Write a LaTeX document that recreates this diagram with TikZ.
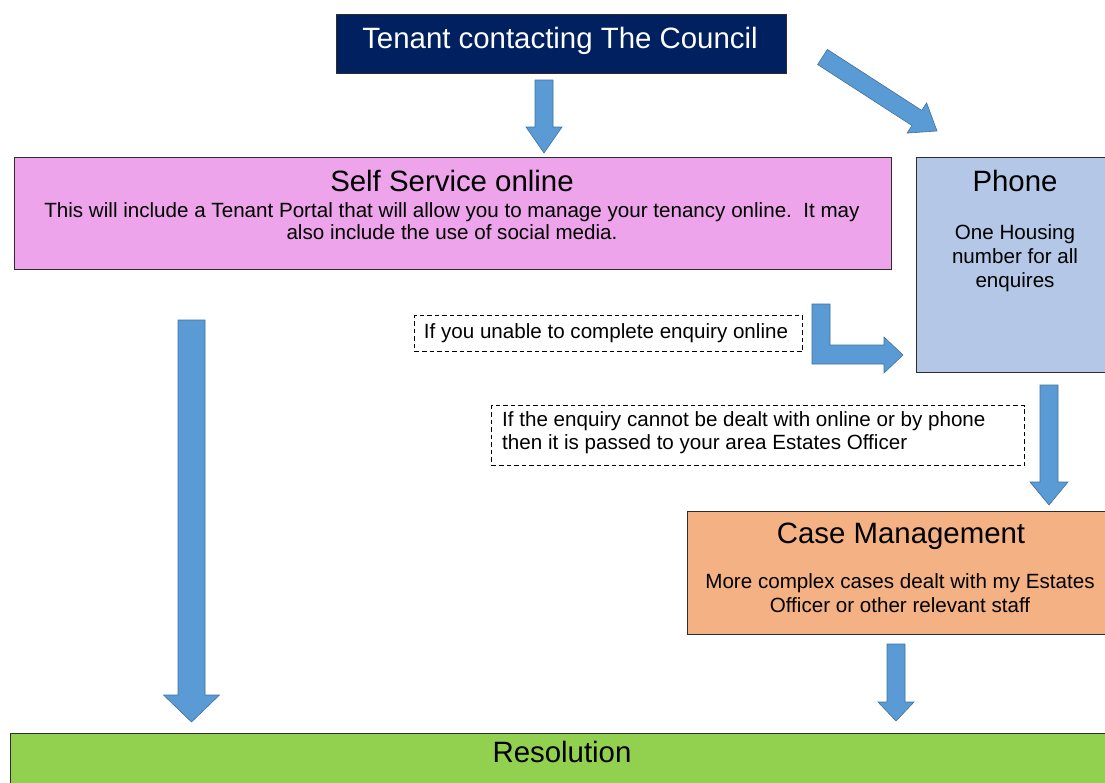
\documentclass[tikz,border=0pt]{standalone}
\usepackage{fontspec}
\setmainfont{Liberation Sans}
\usetikzlibrary{calc}
\definecolor{navy}{RGB}{0,32,96}
\definecolor{pinkbox}{RGB}{237,164,234}
\definecolor{phoneblue}{RGB}{180,199,231}
\definecolor{caseorange}{RGB}{244,177,131}
\definecolor{resgreen}{RGB}{146,208,80}
\definecolor{arrowblue}{RGB}{91,155,213}
\definecolor{arrowedge}{RGB}{65,113,156}
\definecolor{boxedge}{RGB}{45,45,45}
% #1 tail, #2 tip, #3 shaft half width, #4 head half width, #5 head length
\newcommand\blockarrow[5]{%
  \coordinate (hb) at ($(#2)!#5!(#1)$);
  \filldraw[arrowstyle] ($(#1)!#3!90:(#2)$) -- ($(hb)!#3!90:(#2)$) -- ($(hb)!#4!90:(#2)$) -- (#2)
    -- ($(hb)!#4!-90:(#2)$) -- ($(hb)!#3!-90:(#2)$) -- ($(#1)!#3!-90:(#2)$) -- cycle;}
\begin{document}
\begin{tikzpicture}[x=1pt,y=-1pt,
  box/.style={draw=boxedge,line width=1.2pt,inner sep=0pt,anchor=north west},
  titletext/.style={font=\fontsize{29.4}{34}\selectfont,anchor=base,inner sep=0pt},
  bodytext/.style={font=\fontsize{20.6}{24}\selectfont,anchor=base,inner sep=0pt},
  notebox/.style={draw=black,dashed,dash pattern=on 4.5pt off 3pt,line width=1pt,inner sep=0pt,anchor=north west},
  arrowstyle/.style={fill=arrowblue,draw=arrowedge,line width=0.6pt}]
\useasboundingbox (0,0) rectangle (1105,782);
\fill[white] (0,0) rectangle (1105,782);
% boxes
\node[box,fill=navy,minimum width=450pt,minimum height=59pt] (top) at (336,14) {};
\node[box,fill=pinkbox,minimum width=877pt,minimum height=112pt] (self) at (14,157) {};
\node[box,fill=phoneblue,minimum width=200pt,minimum height=215pt] (phone) at (916,157) {};
\node[box,fill=caseorange,minimum width=430pt,minimum height=123pt] (case) at (687,511) {};
\node[box,fill=resgreen,minimum width=1105pt,minimum height=60pt] (res) at (10,733) {};
\node[notebox,minimum width=388pt,minimum height=36pt] (note1) at (414,315) {};
\node[notebox,minimum width=533pt,minimum height=60pt] (note2) at (491,405) {};
% texts
\node[titletext,text=white] (t1) at (560,48) {Tenant contacting The Council};
\node[titletext] (t2) at (452,191) {Self Service online};
\node[bodytext] (t3) at (452,217) {This will include a Tenant Portal that will allow you to manage your tenancy online.\ \ It may};
\node[bodytext] (t4) at (452,239) {also include the use of social media.};
\node[titletext] (t5) at (1015,191) {Phone};
\node[bodytext] (t6) at (1015,239) {One Housing};
\node[bodytext] (t7) at (1015,263) {number for all};
\node[bodytext] (t8) at (1015,287) {enquires};
\node[bodytext] (t9) at (606,338) {If you unable to complete enquiry online};
\node[bodytext,anchor=base west] (t10) at (502,426) {If the enquiry cannot be dealt with online or by phone};
\node[bodytext,anchor=base west] (t11) at (502,449) {then it is passed to your area Estates Officer};
\node[titletext] (t12) at (901,543) {Case Management};
\node[bodytext] (t13) at (900,588) {More complex cases dealt with my Estates};
\node[bodytext] (t14) at (900,612) {Officer or other relevant staff};
\node[titletext] (t15) at (562,762) {Resolution};
% arrows
\coordinate (a1s) at (544,80);   \coordinate (a1e) at (544,153);
\coordinate (a2s) at (822.5,57); \coordinate (a2e) at (937,131);
\coordinate (a3s) at (191.5,320);\coordinate (a3e) at (191.5,722);
\coordinate (a5s) at (1049,385); \coordinate (a5e) at (1049,505);
\coordinate (a6s) at (896,644);  \coordinate (a6e) at (896,721);
\blockarrow{a1s}{a1e}{9pt}{18pt}{26pt}
\blockarrow{a2s}{a2e}{9pt}{18pt}{24pt}
\blockarrow{a3s}{a3e}{13.5pt}{28pt}{27pt}
\blockarrow{a5s}{a5e}{9pt}{19pt}{23pt}
\blockarrow{a6s}{a6e}{9pt}{18pt}{19pt}
\filldraw[arrowstyle] (812,304) -- (830,304) -- (830,345) -- (884,345) -- (884,337) -- (903,355)
  -- (884,373) -- (884,364) -- (812,364) -- cycle;
\end{tikzpicture}
\end{document}
